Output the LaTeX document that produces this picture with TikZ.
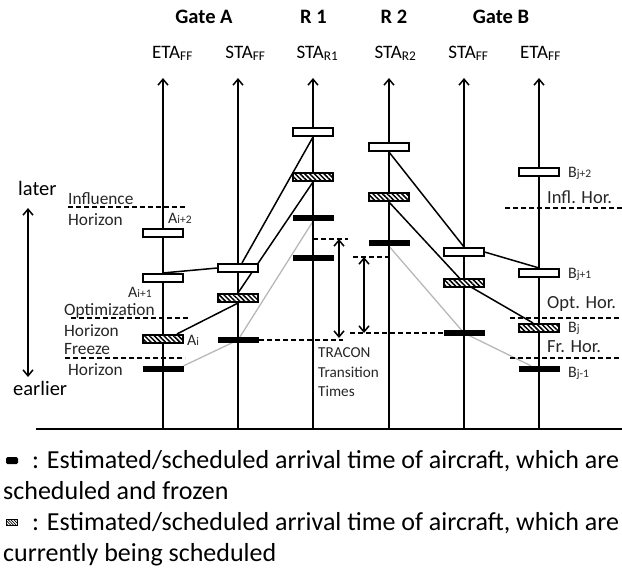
\documentclass[tikz,border=0pt]{standalone}
\usepackage{fontspec}
\setmainfont{Carlito}
\usetikzlibrary{arrows.meta,patterns.meta,backgrounds,calc}
\begin{document}
\begin{tikzpicture}[x=1pt,y=-1pt,
  barb/.tip={Straight Barb[length=6pt,width=10pt,line width=1.5pt]},
  axis/.style={line width=1.8pt,-barb},
  dblarrow/.style={line width=1.6pt,barb-barb},
  openbox/.style={draw,line width=1.6pt,fill=white,minimum width=39.5pt,minimum height=8.5pt,inner sep=0pt},
  hatchbox/.style={openbox,postaction={pattern={Lines[angle=-45,distance=3.4pt,line width=1.5pt]}}},
  blackbar/.style={fill=black,minimum width=41pt,minimum height=6pt,inner sep=0pt},
  hdash/.style={line width=1.5pt,dash pattern=on 5pt off 3pt},
  conn/.style={line width=1.5pt},
  grayconn/.style={line width=1.3pt,black!28},
  title/.style={anchor=base,font=\fontsize{20.5}{24}\selectfont\bfseries},
  head/.style={anchor=base,font=\fontsize{19}{22}\selectfont},
  lbl/.style={anchor=base west,text=black!85,font=\fontsize{17.3}{20}\selectfont,inner sep=0pt},
  rlbl/.style={anchor=base west,text=black!85,font=\fontsize{18.5}{21}\selectfont,inner sep=0pt},
  idx/.style={anchor=base west,text=black!85,inner sep=0pt,font=\fontsize{16}{18}\selectfont},
  side/.style={anchor=base west,inner sep=0pt,font=\fontsize{20.5}{24}\selectfont},
  tra/.style={anchor=base west,inner sep=0pt,text=black!85,font=\fontsize{15.2}{18}\selectfont},
  legend/.style={anchor=base west,inner sep=0pt,font=\fontsize{26}{30}\selectfont}]
\useasboundingbox (0,0) rectangle (622,571);
\newcommand\smidx[1]{{\fontsize{11.5}{13}\selectfont #1}}

% axes
\foreach \n/\x in {a1/163,a2/238,r1/313,r2/389,b1/464,b2/539}{
  \coordinate (\n bot) at (\x,429);
  \coordinate (\n top) at (\x,78);
  \draw[axis] (\n bot) -- (\n top);
}
\coordinate (baseL) at (36,429);
\coordinate (baseR) at (622,429);
\draw[line width=1.8pt] (baseL) -- (baseR);

% titles
\node[title] (tgA) at (204,23) {Gate A};
\node[title] (tr1) at (313.5,23) {R 1};
\node[title] (tr2) at (394,23) {R 2};
\node[title] (tgB) at (501,23) {Gate B};
\node[head] (h1) at (172.5,58) {ETA\textsubscript{FF}};
\node[head] (h2) at (245.5,58) {STA\textsubscript{FF}};
\node[head] (h3) at (317.5,58) {STA\textsubscript{R1}};
\node[head] (h4) at (395.5,58) {STA\textsubscript{R2}};
\node[head] (h5) at (468.5,58) {STA\textsubscript{FF}};
\node[head] (h6) at (540.5,58) {ETA\textsubscript{FF}};

% horizon dashed lines
\coordinate (infA1) at (68,207); \coordinate (infA2) at (187,207);
\coordinate (optA1) at (71,318); \coordinate (optA2) at (188,318);
\coordinate (frzA1) at (65,358); \coordinate (frzA2) at (185,358);
\coordinate (infB1) at (505,208); \coordinate (infB2) at (622,208);
\coordinate (optB1) at (510,318); \coordinate (optB2) at (622,318);
\coordinate (frzB1) at (510,358); \coordinate (frzB2) at (622,358);
\draw[hdash] (infA1) -- (infA2);
\draw[hdash] (optA1) -- (optA2);
\draw[hdash] (frzA1) -- (frzA2);
\draw[hdash] (infB1) -- (infB2);
\draw[hdash] (optB1) -- (optB2);
\draw[hdash] (frzB1) -- (frzB2);

% boxes
\node[openbox] (ai2) at (163,233) {};
\node[openbox] (ai1) at (163,278) {};
\node[hatchbox] (ai) at (163,339) {};
\node[blackbar] (aim1) at (163,369) {};
\node[openbox] (saO) at (238,268) {};
\node[hatchbox] (saH) at (238,298) {};
\node[blackbar] (saB) at (238,340) {};
\node[openbox] (r1O) at (313,132) {};
\node[hatchbox] (r1H) at (313,177) {};
\node[blackbar] (r1B) at (313,218) {};
\node[blackbar] (r1B2) at (313,258) {};
\node[openbox] (r2O) at (389,147) {};
\node[hatchbox] (r2H) at (389,197) {};
\node[blackbar] (r2B) at (389,243) {};
\node[openbox] (sbO) at (464,252) {};
\node[hatchbox] (sbH) at (464,283) {};
\node[blackbar] (sbB) at (464,333) {};
\node[openbox] (bj2) at (539,172) {};
\node[openbox] (bj1) at (539,273) {};
\node[hatchbox] (bj) at (539,328) {};
\node[blackbar] (bjm1) at (539,369) {};

% TRACON transition dashed lines and arrows
\coordinate (t1a) at (313,239); \coordinate (t1b) at (348,239);
\coordinate (t2a) at (353,257); \coordinate (t2b) at (389,257);
\coordinate (t3b) at (343,340);
\coordinate (t4a) at (350,333);
\draw[hdash] (t1a) -- (t1b);
\draw[hdash] (t2a) -- (t2b);
\draw[hdash] (saB.east) -- (t3b);
\draw[hdash] (t4a) -- (sbB.west);
\coordinate (d1t) at (339,239); \coordinate (d1b) at (339,338);
\coordinate (d2t) at (364,257); \coordinate (d2b) at (364,333);
\draw[dblarrow] (d1b) -- (d1t);
\draw[dblarrow] (d2b) -- (d2t);
\coordinate (le1) at (28,208); \coordinate (le2) at (28,377);
\draw[dblarrow] (le2) -- (le1);

% connectors
\begin{scope}[on background layer]
\draw[grayconn] (aim1.north east) -- (saB.center) -- (r1B.south);
\draw[grayconn] (r2B.south) -- (sbB.center) -- ($(bjm1.north)+(-8,0)$);
\draw[conn] (ai1.north) -- (saO.west);
\draw[conn] ($(saO.north)+(4,0)$) -- (r1O.south);
\draw[conn] (saH.north) -- (r1H.south);
\draw[conn] ($(ai.north)+(14,0)$) -- (saH.south);
\draw[conn] (r2O.south) -- (sbO.north);
\draw[conn] (r2H.south) -- (sbH.center) -- ($(bj.north)+(-6,0)$);
\draw[conn] (sbO.east) -- (bj1.north);
\end{scope}

% left labels
\node[lbl] (l1) at (68,204) {Influence};
\node[lbl] (l2) at (68,225) {Horizon};
\node[lbl] (l3) at (64,315) {Optimization};
\node[lbl] (l4) at (64,336) {Horizon};
\node[lbl] (l5) at (64,354) {Freeze};
\node[lbl] (l6) at (68,375) {Horizon};
\node[side] (later) at (18,195) {later};
\node[side] (earlier) at (13,395) {earlier};

% A labels
\node[idx] (lai2) at (168,223) {A\smidx{i+2}};
\node[idx] (lai1) at (128,297) {A\smidx{i+1}};
\node[idx] (lai) at (187,345) {A\smidx{i}};
% B labels
\node[idx] (lbj2) at (568,177) {B\smidx{j+2}};
\node[idx] (lbj1) at (568,278) {B\smidx{j+1}};
\node[idx] (lbj) at (568,332) {B\smidx{j}};
\node[idx] (lbjm1) at (568,377) {B\smidx{j-1}};
\node[rlbl] (r1l) at (547,203) {Infl. Hor.};
\node[rlbl] (r2l) at (547,308) {Opt. Hor.};
\node[rlbl] (r3l) at (547,352) {Fr. Hor.};

% TRACON text
\node[tra] (tr1t) at (318,357) {TRACON};
\node[tra] (tr2t) at (318,377) {Transition};
\node[tra] (tr3t) at (318,396) {Times};

% legend
\node[fill=black,rounded corners=1.5pt,minimum width=12pt,minimum height=7pt,inner sep=0pt] (sym1) at (12,460.5) {};
\node[draw,line width=0.9pt,fill=white,minimum width=11pt,minimum height=6pt,inner sep=0pt,postaction={pattern={Lines[angle=-45,distance=2pt,line width=0.7pt]}}] (sym2) at (12,522) {};
\node[legend] (lg1) at (32,468) {: Estimated/scheduled arrival time of aircraft, which are};
\node[legend] (lg2) at (3,499) {scheduled and frozen};
\node[legend] (lg3) at (32,530) {: Estimated/scheduled arrival time of aircraft, which are};
\node[legend] (lg4) at (3,561) {currently being scheduled};
\end{tikzpicture}
\end{document}
